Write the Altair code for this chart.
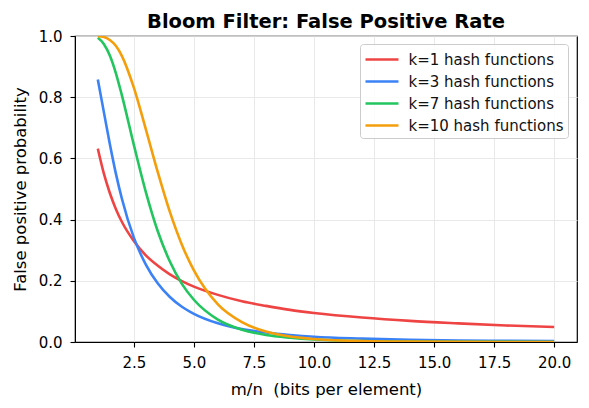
import pandas as pd
import altair as alt

ratio = [1, 1.25, 1.5, 1.75, 2, 2.5, 3, 3.5, 4, 4.5, 5, 6, 7, 8, 9, 10, 12, 14, 16, 18, 20]

k1 = [0.632, 0.551, 0.487, 0.435, 0.393, 0.330, 0.283, 0.249, 0.221, 0.199, 0.181,
      0.154, 0.133, 0.118, 0.105, 0.095, 0.080, 0.069, 0.061, 0.054, 0.049]
k3 = [0.858, 0.752, 0.647, 0.551, 0.469, 0.341, 0.253, 0.191, 0.147, 0.115, 0.092,
      0.061, 0.042, 0.031, 0.023, 0.017, 0.011, 0.007, 0.005, 0.004, 0.003]
k7 = [0.994, 0.974, 0.936, 0.879, 0.807, 0.644, 0.490, 0.361, 0.263, 0.190, 0.138,
      0.073, 0.040, 0.023, 0.014, 0.008, 0.003, 0.0015, 0.0007, 0.0003, 0.0002]
k10 = [0.9995, 0.997, 0.987, 0.968, 0.935, 0.831, 0.695, 0.554, 0.425, 0.318, 0.234,
       0.123, 0.065, 0.034, 0.018, 0.010, 0.003, 0.0012, 0.0005, 0.0002, 0.0001]

labels = ["k=1 hash functions", "k=3 hash functions",
          "k=7 hash functions", "k=10 hash functions"]
colors = ["#ef4444", "#3b82f6", "#22c55e", "#f59e0b"]

rows = []
for name, ys in zip(labels, [k1, k3, k7, k10]):
    for x, y in zip(ratio, ys):
        rows.append({"ratio": x, "fpr": y, "series": name})
df = pd.DataFrame(rows)

font = "DejaVu Sans"

chart = alt.Chart(df).mark_line(strokeWidth=2.6, interpolate="monotone", clip=True).encode(
    x=alt.X(
        "ratio:Q",
        title="m/n\u00a0\u00a0(bits per element)",
        scale=alt.Scale(domain=[0.05, 20.95], nice=False, zero=False),
        axis=alt.Axis(values=[2.5, 5, 7.5, 10, 12.5, 15, 17.5, 20], format=".1f",
                      labelPadding=8, titlePadding=11)),
    y=alt.Y(
        "fpr:Q",
        title="False positive probability",
        scale=alt.Scale(domain=[0, 1], nice=False),
        axis=alt.Axis(values=[0, 0.2, 0.4, 0.6, 0.8, 1.0], format=".1f",
                      labelPadding=8, titlePadding=10)),
    color=alt.Color(
        "series:N",
        sort=labels,
        scale=alt.Scale(domain=labels, range=colors),
        legend=alt.Legend(
            title=None, orient="none", legendX=285, legendY=8,
            symbolType="M-1.65,0H1.65", symbolSize=400, symbolStrokeWidth=2.6,
            symbolOffset=6.5, labelOffset=15,
            labelFontSize=15, labelFont=font, labelColor="#111",
            rowPadding=2, padding=4, cornerRadius=3,
            fillColor="rgba(255,255,255,0.85)", strokeColor="#cccccc"))
).properties(
    width=502,
    height=306,
    title=alt.TitleParams("Bloom Filter: False Positive Rate", font=font,
                          fontSize=19.5, fontWeight="bold", color="#000",
                          offset=4, dy=7),
    autosize=alt.AutoSizeParams(type="none"),
    padding={"left": 67, "top": 28, "right": 4, "bottom": 58}
).configure_view(
    stroke="#000", strokeWidth=1.2
).configure_axis(
    labelFont=font, titleFont=font, labelFontSize=15, titleFontSize=16.5,
    labelColor="#000", titleColor="#000", titleFontWeight="normal",
    domainColor="#000", tickColor="#000", tickSize=5, tickWidth=1.1,
    gridColor="#e6e6e6", gridWidth=0.9
)

chart.save("out.html", embed_options={"renderer": "svg", "actions": False})
